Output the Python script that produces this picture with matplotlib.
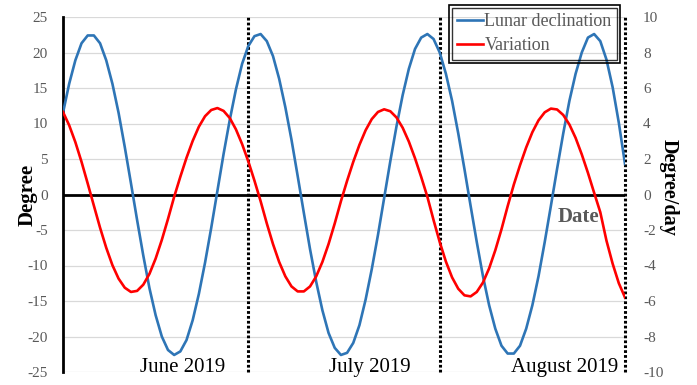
import numpy as np
import matplotlib
matplotlib.use('Agg')
import matplotlib.pyplot as plt
import matplotlib.patches as mpatches

# daily values, 1 June .. 31 August 2019
declination = [11.5, 15.6, 18.9, 21.3, 22.4, 22.4, 21.3, 18.9, 15.6, 11.5,
               6.7, 1.6, -3.6, -8.6, -13.2, -17.0, -20.0, -21.9, -22.6, -22.1,
               -20.5, -17.7, -14.0, -9.6, -4.7, 0.5, 5.7, 10.5, 14.8, 18.4,
               20.9, 22.3, 22.6, 21.6, 19.5, 16.3, 12.3, 7.7, 2.6, -2.6,
               -7.7, -12.3, -16.3, -19.5, -21.6, -22.6, -22.3, -20.9, -18.4, -14.8,
               -10.5, -5.7, -0.5, 4.7, 9.6, 14.0, 17.7, 20.5, 22.1, 22.6,
               21.9, 20.0, 17.0, 13.2, 8.6, 3.6, -1.6, -6.7, -11.5, -15.6,
               -18.9, -21.3, -22.4, -22.4, -21.3, -18.9, -15.6, -11.5, -6.7, -1.6,
               3.6, 8.6, 13.2, 17.0, 20.0, 22.1, 22.6, 21.6, 19.0, 15.1,
               10.1, 4.3]
variation = [4.65, 3.90, 2.95, 1.84, 0.62, -0.63, -1.87, -3.00, -3.98, -4.74,
             -5.25, -5.49, -5.43, -5.08, -4.47, -3.61, -2.56, -1.38, -0.13, 1.00,
             2.07, 3.02, 3.82, 4.41, 4.76, 4.87, 4.71, 4.31, 3.67, 2.84,
             1.87, 0.78, -0.38, -1.63, -2.79, -3.80, -4.61, -5.18, -5.46, -5.46,
             -5.18, -4.61, -3.80, -2.79, -1.63, -0.38, 0.77, 1.84, 2.80, 3.62,
             4.25, 4.65, 4.80, 4.69, 4.34, 3.76, 2.98, 2.04, 0.99, -0.13,
             -1.44, -2.68, -3.78, -4.67, -5.31, -5.68, -5.74, -5.49, -4.96, -4.16,
             -3.14, -1.96, -0.66, 0.56, 1.65, 2.65, 3.51, 4.18, 4.63, 4.84,
             4.79, 4.48, 3.94, 3.19, 2.26, 1.22, 0.10, -1.00, -2.60, -3.90,
             -5.00, -5.80]
days = np.arange(len(declination))
month_ends = [30, 61, 91]
month_names = ['June 2019', 'July 2019', 'August 2019']
month_label_x = [19.3, 49.7, 81.2]

plt.rcParams['font.family'] = ['Liberation Serif', 'DejaVu Serif']
plt.rcParams['axes.unicode_minus'] = False
grey = '#595959'
blue = '#2E75B6'

fig = plt.figure(figsize=(6.97, 3.85), dpi=100)
ax = fig.add_axes([63 / 697, 1 - 372 / 385, 562 / 697, 355 / 385])
ax2 = ax.twinx()

ax.set_xlim(0, 91)
ax.set_ylim(-25, 25)
ax2.set_ylim(-10, 10)
ax.set_yticks(range(-25, 26, 5))
ax2.set_yticks(range(-10, 11, 2))
ax.set_xticks([])
ax.grid(axis='y', color='#D9D9D9', linewidth=0.9)
ax.set_axisbelow(True)

for s in ['top', 'right', 'bottom']:
    ax.spines[s].set_visible(False)
    ax2.spines[s].set_visible(False)
ax2.spines['left'].set_visible(False)
ax.spines['left'].set_linewidth(2)
ax.spines['left'].set_color('black')

ax.tick_params(axis='y', length=0, pad=11, labelsize=11, labelcolor=grey)
ax2.tick_params(axis='y', length=0, pad=13, labelsize=11, labelcolor=grey)

ax.axhline(0, color='black', linewidth=2, zorder=3)
for m in month_ends:
    ax.axvline(m, color='black', linestyle=(0, (0.9, 0.7)), linewidth=2.2,
               zorder=4, clip_on=False)

l1, = ax.plot(days, declination, color=blue, linewidth=1.9, zorder=5)
l2, = ax2.plot(days, variation, color='red', linewidth=1.9, zorder=5)

for name, xm in zip(month_names, month_label_x):
    ax.text(xm, -24.4, name, ha='center', va='center', fontsize=15, color='black')
ax.text(83.4, -3.1, 'Date', ha='center', va='center', fontsize=15,
        fontweight='bold', color=grey)

ax.set_ylabel('Degree', fontsize=15, fontweight='bold')
ax.yaxis.set_label_coords(-0.046, 0.5)
ax2.set_ylabel('Degree/day', fontsize=14.5, fontweight='bold', rotation=270,
               va='bottom')
ax2.yaxis.set_label_coords(1.060, 0.52)

leg = fig.legend([l1, l2], ['Lunar declination', 'Variation'],
                 loc='upper right', bbox_to_anchor=(617 / 697, 1 - 8 / 385),
                 fontsize=13, frameon=True, fancybox=False,
                 facecolor='none', edgecolor='black', handlelength=1.4,
                 handletextpad=0.1, borderpad=0.3, labelspacing=0.38,
                 borderaxespad=0)
leg.get_frame().set_linewidth(1)
for t in leg.get_texts():
    t.set_color(grey)

fig.canvas.draw()
bb = leg.get_window_extent().transformed(fig.transFigure.inverted())
px = 3 / 697
py = 3 / 385
fig.patches.append(mpatches.Rectangle((bb.x0 - px, bb.y0 - py), bb.width + 2 * px,
                                      bb.height + 2 * py, transform=fig.transFigure,
                                      fill=False, edgecolor='black', linewidth=1.2,
                                      zorder=10))

fig.savefig('out.png', dpi=100)
